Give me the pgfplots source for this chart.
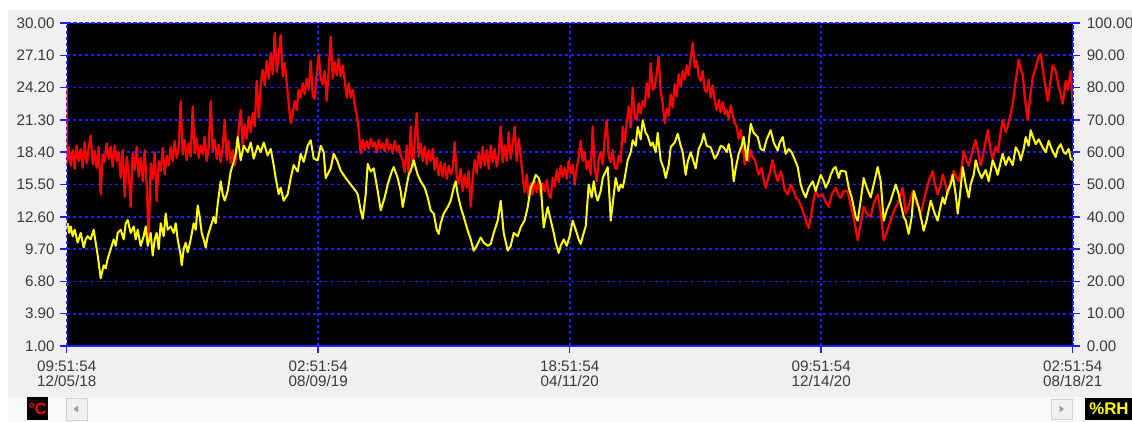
\documentclass[border=0pt]{standalone}
\usepackage{pgfplots}
\pgfplotsset{compat=1.18}
\usepackage{fontspec}
\setmainfont{Liberation Sans}
\definecolor{gridblue}{RGB}{30,30,255}
\definecolor{panel}{RGB}{240,240,240}
\definecolor{strip}{RGB}{248,248,248}
\definecolor{lbl}{RGB}{58,58,58}
\definecolor{rhyellow}{RGB}{255,255,0}

\begin{document}
\begin{tikzpicture}
\fill[white] (0,0) rectangle (566pt,211pt);
\fill[panel] (4pt,12.5pt) rectangle (566pt,206pt);
\fill[strip] (4pt,0pt) rectangle (566pt,12.5pt);
% scrollbar buttons
\draw[fill=panel,draw=black!18] (33pt,1pt) rectangle (43.5pt,12pt);
\fill[black!40] (36.8pt,6.5pt) -- (39pt,8.2pt) -- (39pt,4.8pt) -- cycle;
\draw[fill=panel,draw=black!18] (525.5pt,1.5pt) rectangle (536pt,11.5pt);
\fill[black!40] (532pt,6.5pt) -- (529.8pt,8.2pt) -- (529.8pt,4.8pt) -- cycle;
% unit boxes
\fill[black] (13.5pt,1pt) rectangle (24pt,12.5pt);
\node[text=red,font=\bfseries\fontsize{8}{8}\selectfont,inner sep=0pt] at (18.75pt,6.75pt) {°C};
\fill[black] (542.5pt,1pt) rectangle (566pt,12pt);
\node[text=rhyellow,font=\bfseries\fontsize{8.4}{8.4}\selectfont,inner sep=0pt] at (554.5pt,6.5pt) {\%RH};

\begin{axis}[
  at={(33.35pt,38pt)}, anchor=south west,
  scale only axis, width=503pt, height=161.5pt,
  xmin=0, xmax=1006, ymin=1, ymax=30,
  axis background/.style={fill=black},
  axis line style={gridblue, dash pattern=on 1.5pt off 1.5pt, line width=0.85pt},
  grid=major,
  major grid style={gridblue, dash pattern=on 1.5pt off 1.5pt, line width=0.85pt},
  tick style={gridblue, solid, line width=0.75pt},
  tick align=outside, major tick length=3.5pt,
  xtick pos=bottom, ytick pos=left,
  xtick={0,251.5,503,754.5,1006},
  xticklabels={{09:51:54\\12/05/18},{02:51:54\\08/09/19},{18:51:54\\04/11/20},{09:51:54\\12/14/20},{02:51:54\\08/18/21}},
  x tick label style={align=center, text=lbl, font=\fontsize{7.6}{7.6}\selectfont, yshift=-0.5pt},
  ytick={1,3.9,6.8,9.7,12.6,15.5,18.4,21.3,24.2,27.1,30},
  yticklabels={1.00,3.90,6.80,9.70,12.60,15.50,18.40,21.30,24.20,27.10,30.00},
  y tick label style={text=lbl, font=\fontsize{7.6}{7.6}\selectfont, xshift=1pt},
]
\addplot[red, line width=1.1pt, line join=round] coordinates {
(0,24.2)(0.5,17.5)(2,18.9)(4,17.2)(6,18.6)(8,16.9)(10,19.0)(12,17.6)(14,18.7)(16,17.0)(18,19.3)(20,17.4)(22,18.8)(24,19.9)(26,17.3)(28,18.5)(30,17.0)(32,18.9)(34,14.6)(36,18.2)(38,17.5)(40,19.2)(42,17.8)(44,18.9)(46,17.1)(48,19.0)(50,17.6)(52,18.4)(54,16.1)(56,18.6)(58,14.4)(60,18.0)(62,16.5)(64,13.5)(66,18.3)(68,16.8)(70,18.9)(72,16.2)(74,17.9)(76,15.8)(78,18.6)(80,15.5)(82,10.6)(84,17.4)(86,16.0)(88,18.4)(90,14.0)(92,17.6)(94,16.7)(96,18.8)(98,16.4)(100,18.1)(102,17.2)(104,18.9)
(106,17.6)(108,19.4)(110,17.9)(112,18.8)(114,23.0)(116,18.2)(118,19.5)(120,17.7)(122,19.2)(124,18.0)(126,22.5)(128,18.3)(130,19.6)(132,17.9)(134,19.0)(136,18.2)(138,19.8)(140,17.6)(142,18.9)(144,23.0)(146,18.5)(148,19.5)(150,17.8)(152,19.1)(154,17.5)(156,18.9)(158,21.3)(160,17.7)(162,19.4)(164,17.4)(166,18.6)(168,17.2)
(170,18.4)(172,20.5)(174,22.2)(176,19.0)(178,20.9)(180,19.6)(182,21.6)(184,20.2)(186,21.9)(188,20.7)(190,24.8)(192,21.5)(194,24.5)
(196,25.8)(198,24.4)(200,26.6)(202,25.0)(204,27.3)(206,25.4)(208,29.1)(210,25.6)(212,27.0)(214,28.9)(216,25.2)(218,26.4)(220,24.6)(222,22.8)(224,21.0)(226,21.8)(228,23.0)(230,22.2)(232,24.0)(234,23.3)(236,24.6)(238,23.6)(240,25.0)(242,24.0)(244,26.6)(246,23.5)(248,23.2)(250,25.5)(252,27.2)(254,25.0)(256,24.5)(258,25.7)(260,23.0)(262,25.9)(264,28.8)(266,25.0)(268,26.5)(270,25.3)(272,26.8)(274,25.2)(276,26.2)(278,24.9)(280,23.3)(282,24.6)(284,23.3)(286,24.0)(288,22.6)(290,21.8)(292,20.4)(294,18.3)(296,19.5)(298,18.6)
(300,19.4)(302,18.7)(304,19.6)(306,18.9)(308,19.3)(310,18.4)(312,19.5)(314,18.7)(316,19.2)(318,18.5)(320,19.6)(322,18.6)(324,19.1)(326,18.3)(328,19.4)(330,18.5)(332,19.0)(334,18.1)(336,17.7)(338,16.6)
(340,19.0)(342,16.4)(344,20.7)(346,17.0)(348,19.3)(350,21.9)(352,18.0)(354,19.2)(356,17.6)(358,18.9)(360,17.3)(362,18.6)(364,17.6)(366,18.7)(368,16.8)(370,17.9)(372,16.3)(374,17.5)(376,16.2)(378,17.4)(380,16.0)(382,17.2)(384,16.4)(386,17.0)(388,19.3)(390,16.2)(392,15.6)(394,16.9)(396,14.9)(398,16.4)(400,15.2)(402,16.7)(404,13.5)(406,16.1)(408,17.7)(410,16.5)(412,18.4)(414,17.0)(416,18.9)(418,17.2)(420,18.6)(422,16.9)(424,19.0)(426,17.5)(428,18.7)(430,17.1)(432,18.2)(434,20.7)(436,17.5)(438,19.0)(440,17.6)(442,20.2)(444,17.8)(446,19.1)(448,20.7)(450,17.6)(452,19.6)(454,18.0)
(456,16.2)(458,14.8)(460,16.4)(462,14.3)(464,15.6)(466,14.6)(468,15.8)(470,14.8)(472,15.9)(474,14.5)(476,15.6)(478,14.9)(480,15.9)(482,14.6)(484,14.3)(486,16.1)(488,15.3)(490,16.8)(492,15.7)(494,17.2)(496,16.2)(498,17.0)(500,16.0)(502,17.6)(504,16.5)(506,17.3)(508,15.5)(510,17.0)(512,18.0)(514,19.4)(516,17.6)(518,18.4)(520,16.9)(522,17.6)(524,16.4)(526,20.7)(528,17.0)(530,15.8)(532,17.8)(534,18.4)(536,17.3)(538,19.6)(540,21.3)(542,18.0)(544,17.5)(546,18.6)(548,17.0)(550,16.9)(552,18.1)(554,17.5)(556,20.7)(558,19.3)(560,21.0)(562,22.5)(564,20.6)(566,24.2)(568,21.5)(570,21.3)(572,22.8)(574,21.9)(576,23.0)(578,22.5)(580,24.6)(582,23.3)(584,26.4)(586,24.0)(588,24.2)(590,25.5)(592,27.0)(594,23.8)(596,22.8)(598,21.0)(600,22.3)(602,21.7)(604,23.6)(606,22.4)(608,24.5)(610,23.4)(612,25.4)(614,24.3)(616,25.7)(618,24.9)(620,26.2)(622,25.3)(624,26.8)(626,28.2)(628,26.0)(630,26.6)(632,25.2)(634,24.8)(636,25.7)(638,24.0)(640,23.8)(642,24.9)(644,23.3)(646,24.4)(648,23.0)(650,22.2)(652,23.1)(654,22.0)(656,22.9)(658,21.8)(660,22.2)(662,21.4)(664,22.6)(666,21.8)(668,21.0)(670,20.7)(672,19.6)(674,20.4)(676,19.0)(678,17.3)
(680,18.3)(682,17.6)(684,18.6)(686,17.9)(688,17.8)(690,17.0)(692,16.4)(695,17.0)(697,16.0)(699,15.2)(702,16.2)(704,16.9)(706,17.7)(708,16.6)(711,15.8)(714,16.7)(716,16.0)(718,15.0)(721,14.6)(724,15.5)(727,14.9)(730,14.2)(732,14.1)(735,13.4)(737,12.9)(740,12.0)(742,11.6)(745,13.0)(747,14.2)(749,14.9)(752,14.4)(756,14.6)(759,13.9)(762,13.5)(765,14.6)(769,15.2)(772,14.5)(774,14.3)(777,14.9)(781,14.9)(784,13.6)(786,12.9)(789,11.5)(791,10.5)(794,12.0)(797,13.5)(800,12.9)(804,12.6)(807,13.8)(811,14.6)(814,13.0)(817,10.5)(820,11.2)(824,12.3)(827,13.1)(831,13.8)(834,14.5)(836,15.2)(839,12.9)(842,13.6)(846,14.9)(850,13.8)(854,12.9)(858,14.4)(862,15.8)(866,16.7)(868,15.6)(871,14.6)(874,15.5)(876,16.4)(879,15.4)(881,14.6)(884,15.8)(887,16.7)(890,16.1)(892,15.8)(895,17.0)(897,18.5)(900,17.6)(902,17.2)(906,18.6)(909,19.5)(912,18.1)(914,17.2)(918,18.9)(921,20.4)(924,18.5)(926,17.8)(929,18.9)(931,18.4)(934,20.2)(936,21.3)(939,20.2)(941,20.7)(944,21.9)(946,22.75)(949,24.8)(952,26.7)(954,25.8)(956,25.4)(958,23.4)(961,21.3)(963,23.0)(966,25.1)(969,26.0)(972,27.0)(974,27.2)(976,25.9)(978,24.7)(981,23.0)(984,24.9)(986,26.2)(989,25.7)(992,24.3)(994,23.6)(996,22.75)(999,24.8)(1001,24.0)(1004,25.7)(1006,22.75)
};
\end{axis}

\begin{axis}[
  at={(33.35pt,38pt)}, anchor=south west,
  scale only axis, width=503pt, height=161.5pt,
  xmin=0, xmax=1006, ymin=0, ymax=100,
  axis x line=none, axis y line*=right,
  axis line style={gridblue, dash pattern=on 1.5pt off 1.5pt, line width=0.85pt},
  tick style={gridblue, solid, line width=0.75pt},
  tick align=outside, major tick length=3.5pt,
  ytick={0,10,...,100},
  yticklabels={0.00,10.00,20.00,30.00,40.00,50.00,60.00,70.00,80.00,90.00,100.00},
  y tick label style={text=lbl, font=\fontsize{7.6}{7.6}\selectfont},
]
\addplot[rhyellow, line width=1.0pt, line join=round] coordinates {
(1,38)(2.5,35)(4,37)(6,34)(8,36)(11,32)(14,35)(17,30.5)(19,33)(21,34)(24,33)(27,36)(29,32)(31,28)(34,21)(37,25)(39,24)(41,27)(44,30)(47,33)(49,31)(51,35)(54,36)(57,33)(59,38)(61,39)(64,35)(67,37)(69,33)(71,36)(74,31)(77,34)(79,37)(81,31)(84,35)(86,28)(88,33)(90,35)(92,30)(94,38)(97,34)(99,41)(101,36)(104,37)(107,35)(109,38)(111,33)(114,28)(115,25)(117,30)(119,32)(121,29)(124,33)(127,38)(129,36)(131,43.5)(133,40)(135,35)(137,33)(139,30.5)(141,34)(144,37)(147,40)(149,38)(151,44)(154,51)(156,47)(158,45)(161,48)(164,54)(167,57)(169,59.5)(171,64.7)(174,57.5)(177,62)(181,60)(184,63)(187,58)(191,62)(194,60)(197,63)(201,59)(204,61)(207,56)(209,52)(212,47)(214,49)(217,45)(221,47)(224,52)(227,56)(231,54)(234,59.5)(237,57)(241,62)(244,63.7)(247,58)(251,57.5)(254,62)(257,60)(259,52)(264,55)(267,59.5)(271,57)(274,54.3)(279,52)(284,50)(289,48)(291,47)(294,42)(296,39.4)(299,47)(301,56.4)(304,54)(307,55)(311,48)(314,42)(318,46)(321,50)(325,54)(327,55.4)(331,52)(334,48)(336,43)(339,48)(342,53)(344,54.3)(347,57.5)(351,53)(354,51)(358,49)(361,46)(364,42)(367,41)(370,36)(372,34.7)(374,38)(377,41)(381,43)(384,45)(387,49)(389,51)(391,47)(394,43)(397,40)(401,35.7)(404,33)(407,29.5)(410,31)(414,33.6)(417,32)(421,31)(424,31.6)(427,35)(431,38.8)(434,45)(437,35)(441,29.5)(444,31)(447,35)(451,34)(454,36.7)(458,39)(461,43)(464,49)(467,51)(469,53)(472,52)(474,50)(477,36.7)(479,40)(481,43)(484,39)(487,35)(489,32)(492,28.8)(494,31)(497,33)(500,31)(503,34)(506,38.8)(509,36)(512,33)(514,31.6)(517,35)(519,37)(522,50)(525,46)(527,51)(529,47)(531,45)(534,48)(536,52)(539,54)(541,55.4)(543,45)(544,38.8)(546,44)(549,52)(552,48)(554,50)(556,49)(558,52)(561,57.5)(564,60)(566,63.7)(569,62)(571,67.8)(574,64)(576,69.9)(579,66)(581,65)(584,62)(586,63)(589,60)(591,66)(594,57.5)(597,55)(599,52)(602,56)(604,61.6)(608,63)(611,65.7)(614,62)(616,60)(619,53)(621,57)(624,60)(627,57)(629,55)(632,61)(635,63)(637,65.7)(640,62)(644,61.5)(648,58)(651,59.5)(654,62)(657,61.5)(660,60)(662,62.5)(665,58)(667,51)(669,55)(672,59.5)(675,62)(677,64.7)(680,57.5)(682,63)(684,68.8)(687,66)(691,64.7)(694,61)(697,60.5)(700,64)(704,66.8)(707,63)(711,60.5)(713,63)(716,64.7)(719,59.5)(722,61)(725,60)(727,58.5)(729,57)(731,55.4)(734,50)(736,48)(739,46)(742,49)(746,51)(749,48)(751,50)(754,53)(757,51)(759,49)(762,51)(764,53)(767,55)(769,55.4)(772,52)(774,54.3)(779,54)(782,49)(785,46)(787,43)(789,40)(791,38.8)(794,45)(797,52)(800,49)(804,46)(807,50)(811,55.4)(814,51)(817,38.8)(820,42)(824,45)(827,48)(829,50)(832,47)(834,44)(837,40)(839,38.8)(842,34.7)(845,40)(847,48)(850,45)(852,43)(857,35.7)(860,39)(864,45)(868,41)(871,38.8)(873,42)(876,46)(878,44)(881,48)(884,50)(886,53)(889,47)(891,41)(893,46)(896,55.4)(899,50)(902,46)(904,50)(907,53)(909,57.5)(912,54)(915,52)(919,54.5)(922,51)(926,57.5)(929,55)(931,53)(934,57)(936,59.5)(939,56)(942,58.5)(946,56)(949,61.5)(952,60)(954,57.5)(957,61)(959,64.7)(962,62)(964,66.8)(966,65)(969,62.5)(972,64)(976,61.5)(979,60)(982,63.5)(985,61)(989,58.5)(991,61)(994,62.5)(997,60)(999,59.5)(1002,61)(1004,58)(1006,57.5)
};
\end{axis}
\pgfresetboundingbox
\useasboundingbox (0,0) rectangle (566pt,211pt);
\end{tikzpicture}
\end{document}
